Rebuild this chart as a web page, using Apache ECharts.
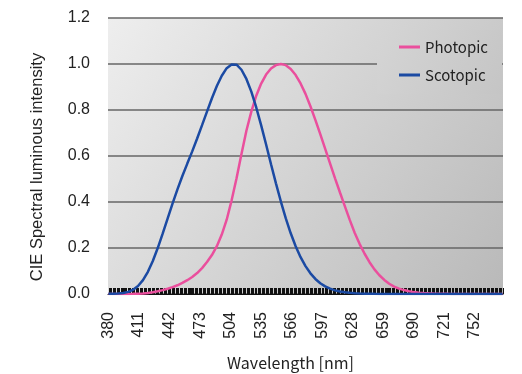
<!DOCTYPE html>
<html>
<head>
<meta charset="utf-8">
<script src="https://cdn.jsdelivr.net/npm/echarts@6/dist/echarts.min.js"></script>
<style>html,body{margin:0;padding:0;background:#fff}#c{width:522px;height:374px}</style>
</head>
<body>
<div id="c"></div>
<script>
// wavelength range of the category axis (1 nm steps)
var wlStart = 380, wlEnd = 780;
// sample wavelengths (5 nm)
var sampleWl = [380,385,390,395,400,405,410,415,420,425,430,435,440,445,450,455,460,465,470,475,480,485,490,495,500,505,510,515,520,525,530,535,540,545,550,555,560,565,570,575,580,585,590,595,600,605,610,615,620,625,630,635,640,645,650,655,660,665,670,675,680,685,690,695,700,705,710,715,720,725,730,735,740,745,750,755,760,765,770,775,780];
var photopic = [0.0000,0.0001,0.0001,0.0002,0.0004,0.0006,0.0012,0.0022,0.0040,0.0073,0.0116,0.0168,0.0230,0.0298,0.0380,0.0480,0.0600,0.0739,0.0910,0.1126,0.1390,0.1693,0.2080,0.2586,0.3230,0.4073,0.5030,0.6082,0.7100,0.7932,0.8620,0.9149,0.9540,0.9803,0.9950,1.0000,0.9950,0.9786,0.9520,0.9154,0.8700,0.8163,0.7570,0.6949,0.6310,0.5668,0.5030,0.4412,0.3810,0.3210,0.2650,0.2170,0.1750,0.1382,0.1070,0.0816,0.0610,0.0446,0.0320,0.0232,0.0170,0.0119,0.0082,0.0057,0.0041,0.0029,0.0021,0.0015,0.0011,0.0007,0.0005,0.0004,0.0002,0.0002,0.0001,0.0001,0.0001,0.0000,0.0000,0.0000,0.0000];
var scotopic = [0.0006,0.0011,0.0022,0.0045,0.0093,0.0185,0.0348,0.0604,0.0966,0.1436,0.1998,0.2625,0.3281,0.3931,0.4550,0.5130,0.5670,0.6200,0.6760,0.7340,0.7930,0.8510,0.9040,0.9490,0.9820,0.9980,0.9970,0.9750,0.9350,0.8800,0.8110,0.7330,0.6500,0.5640,0.4810,0.4020,0.3288,0.2639,0.2076,0.1602,0.1212,0.0899,0.0655,0.0469,0.0332,0.0231,0.0159,0.0109,0.0074,0.0050,0.0033,0.0022,0.0015,0.0010,0.0007,0.0005,0.0003,0.0002,0.0001,0.0001,0.0001,0.0000,0.0000,0.0000,0.0000,0.0000,0.0000,0.0000,0.0000,0.0000,0.0000,0.0000,0.0000,0.0000,0.0000,0.0000,0.0000,0.0000,0.0000,0.0000,0.0000];
var seriesNames = ['Photopic', 'Scotopic'];

var categories = [];
for (var w = wlStart; w <= wlEnd; w++) categories.push(String(w));
function toGrid(vals) {
  var arr = categories.map(function () { return null; });
  sampleWl.forEach(function (wl, i) { arr[wl - wlStart] = vals[i]; });
  return arr;
}

var chart = echarts.init(document.getElementById('c'), null, {renderer: 'canvas'});
chart.setOption({
  animation: false,
  backgroundColor: '#ffffff',
  grid: {
    left: 108, right: 19, top: 18, bottom: 80,
    outerBoundsMode: 'none',
    containLabel: false,
    show: true, borderWidth: 0,
    backgroundColor: new echarts.graphic.LinearGradient(0, 0, 1, 1, [
      {offset: 0, color: '#eeeeee'},
      {offset: 1, color: '#b9b9b9'}
    ])
  },
  legend: {
    data: seriesNames,
    orient: 'vertical',
    left: 377, top: 30,
    padding: [8, 14, 10, 22],
    itemGap: 10,
    itemWidth: 21, itemHeight: 3,
    icon: 'rect',
    backgroundColor: new echarts.graphic.LinearGradient(0, 0, 1, 1, [
      {offset: 0, color: '#d5d5d5'},
      {offset: 1, color: '#c5c5c5'}
    ]),
    textStyle: {fontFamily: 'Noto Sans CJK JP', fontSize: 15, color: '#222', lineHeight: 18}
  },
  xAxis: {
    type: 'category',
    data: categories,
    name: 'Wavelength [nm]',
    nameLocation: 'middle',
    nameGap: 61,
    nameTextStyle: {fontFamily: 'Noto Sans CJK JP', fontSize: 16, color: '#222', padding: [0, 30, 0, 0]},
    axisLine: {show: true, lineStyle: {color: '#111', width: 1}},
    axisTick: {show: true, inside: true, length: 6,
      interval: function (i) { return i % 4 !== 0; },
      lineStyle: {color: '#111', width: 1}},
    axisLabel: {interval: 30, rotate: 90, fontFamily: 'Liberation Sans', fontSize: 16, color: '#222', margin: 18},
    splitLine: {show: false}
  },
  yAxis: {
    type: 'value',
    min: 0, max: 1.2, interval: 0.2,
    name: 'CIE Spectral luminous intensity',
    nameLocation: 'middle',
    nameGap: 62,
    nameRotate: 90,
    nameTextStyle: {fontFamily: 'Liberation Sans', fontSize: 16.5, color: '#222', padding: [0, 0, 0, -22]},
    axisLine: {show: false},
    axisTick: {show: false},
    axisLabel: {fontFamily: 'Liberation Sans', fontSize: 16, color: '#222', margin: 18,
      formatter: function (v) { return v.toFixed(1); }},
    splitLine: {show: true, lineStyle: {color: '#666666', width: 1.5}}
  },
  series: [
    {name: seriesNames[0], type: 'line', data: toGrid(photopic), connectNulls: true, showSymbol: false, symbol: 'none',
      itemStyle: {color: '#ea4f9d'}, lineStyle: {color: '#ea4f9d', width: 2.5}},
    {name: seriesNames[1], type: 'line', data: toGrid(scotopic), connectNulls: true, showSymbol: false, symbol: 'none',
      itemStyle: {color: '#1b4aa3'}, lineStyle: {color: '#1b4aa3', width: 2.5}}
  ]
});
</script>
</body>
</html>
